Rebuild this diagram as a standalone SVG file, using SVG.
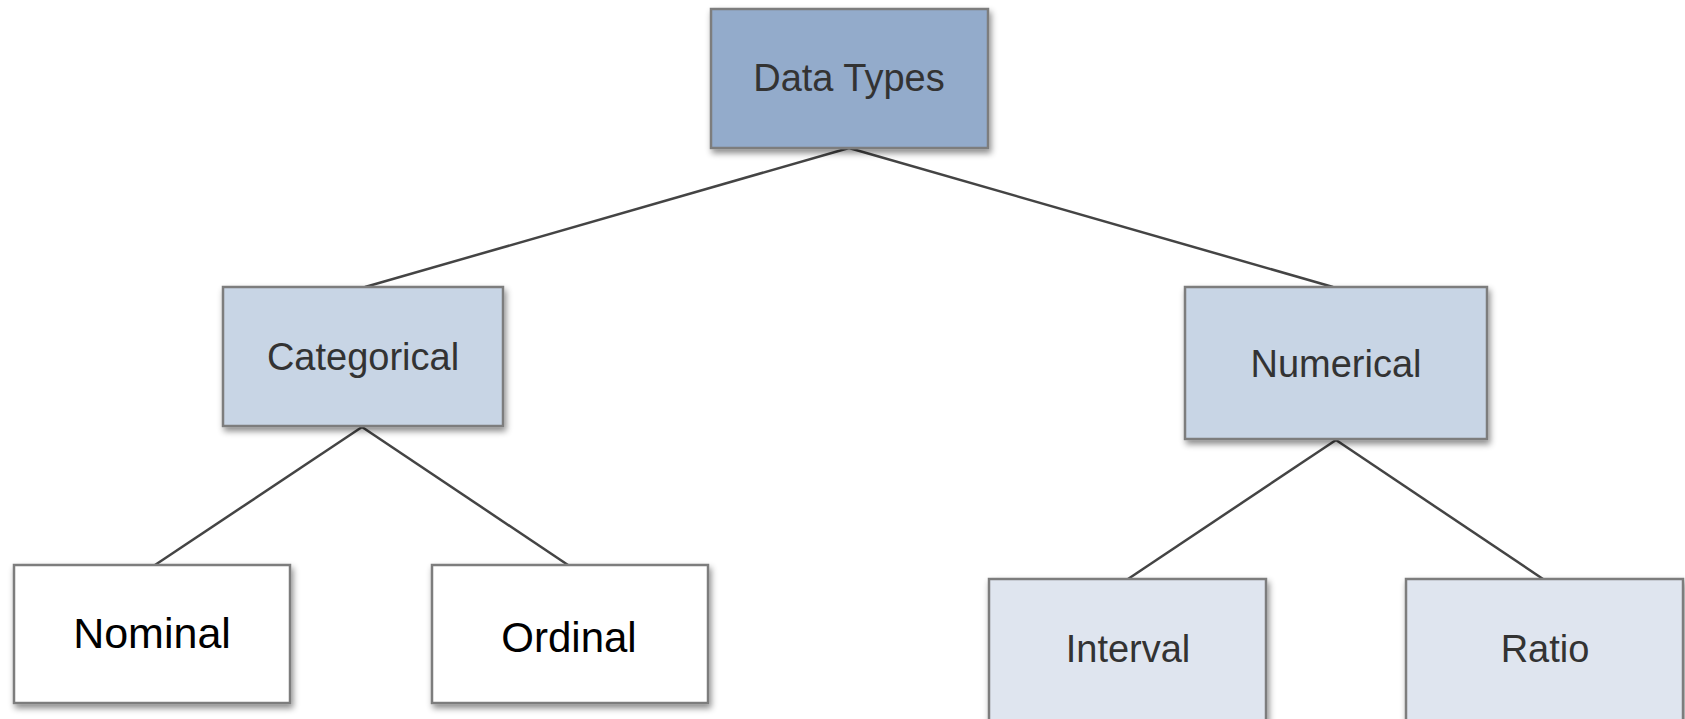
<svg xmlns="http://www.w3.org/2000/svg" width="1685" height="719" viewBox="0 0 1685 719">
  <defs>
    <filter id="shadow" x="-10%" y="-10%" width="125%" height="130%">
      <feDropShadow dx="2" dy="4" stdDeviation="3" flood-color="#000" flood-opacity="0.45"/>
    </filter>
  </defs>
  <style>
    .box { stroke: #7d7d7d; stroke-width: 2.5; filter: url(#shadow); }
    .top { fill: #93abcb; }
    .mid { fill: #c8d5e5; }
    .leaf { fill: #dfe5ef; }
    .plain { fill: #ffffff; }
    .label { font-family: "Liberation Sans", Arial, sans-serif; font-size: 38px; fill: #333333; text-anchor: middle; }
    .dark { font-size: 42px; fill: #000000; }
    .wide { font-size: 43px; }
    .edge { stroke: #444444; stroke-width: 2.5; fill: none; }
  </style>

  <rect width="1685" height="719" fill="#ffffff"/>

  <!-- tree edges -->
  <g id="connectors">
    <line class="edge" x1="849" y1="148" x2="365" y2="287"/>
    <line class="edge" x1="849" y1="148" x2="1333" y2="287"/>
    <line class="edge" x1="362" y1="427" x2="155" y2="565"/>
    <line class="edge" x1="362" y1="427" x2="568" y2="565"/>
    <line class="edge" x1="1336" y1="440" x2="1128" y2="579"/>
    <line class="edge" x1="1336" y1="440" x2="1543" y2="579"/>
  </g>

  <g id="data-types">
    <rect class="box top" x="711" y="9" width="277" height="139"/>
    <text class="label" x="849" y="91">Data Types</text>
  </g>

  <g id="categorical">
    <rect class="box mid" x="223" y="287" width="280" height="139"/>
    <text class="label" x="363" y="370">Categorical</text>
  </g>

  <g id="numerical">
    <rect class="box mid" x="1185" y="287" width="302" height="152"/>
    <text class="label" x="1336" y="377">Numerical</text>
  </g>

  <g id="nominal">
    <rect class="box plain" x="14" y="565" width="276" height="138"/>
    <text class="label dark wide" x="152" y="648">Nominal</text>
  </g>

  <g id="ordinal">
    <rect class="box plain" x="432" y="565" width="276" height="138"/>
    <text class="label dark" x="569" y="652">Ordinal</text>
  </g>

  <g id="interval">
    <rect class="box leaf" x="989" y="579" width="277" height="160"/>
    <text class="label" x="1128" y="662">Interval</text>
  </g>

  <g id="ratio">
    <rect class="box leaf" x="1406" y="579" width="277" height="160"/>
    <text class="label" x="1545" y="662">Ratio</text>
  </g>
</svg>
